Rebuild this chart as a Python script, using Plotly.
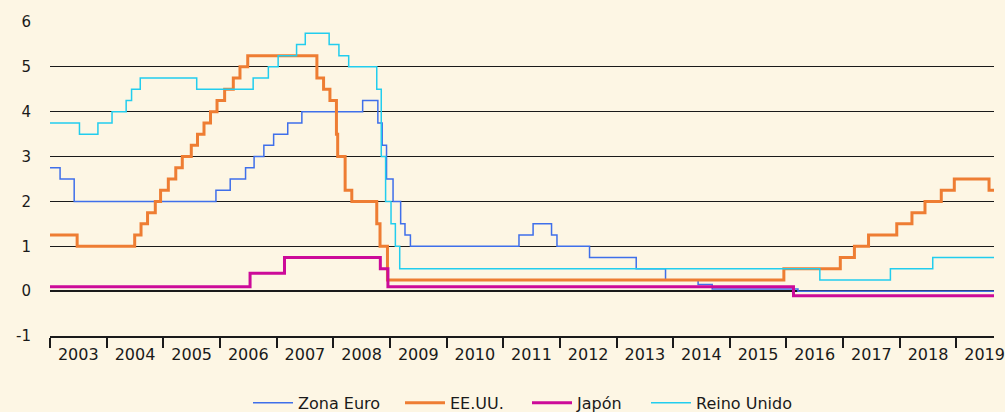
import plotly.graph_objects as go

# ---- Data (policy rates, %) ----
euro_dates = ["2003-01-01", "2003-03-07", "2003-06-06", "2005-12-06", "2006-03-08", "2006-06-15",
              "2006-08-09", "2006-10-11", "2006-12-13", "2007-03-14", "2007-06-13", "2008-07-09",
              "2008-10-15", "2008-11-12", "2008-12-10", "2009-01-21", "2009-03-11", "2009-04-08",
              "2009-05-13", "2011-04-13", "2011-07-13", "2011-11-09", "2011-12-14", "2012-07-11",
              "2013-05-08", "2013-11-13", "2014-06-11", "2014-09-10", "2016-03-16", "2019-09-01"]
euro_rates = [2.75, 2.50, 2.00, 2.25, 2.50, 2.75,
              3.00, 3.25, 3.50, 3.75, 4.00, 4.25,
              3.75, 3.25, 2.50, 2.00, 1.50, 1.25,
              1.00, 1.25, 1.50, 1.25, 1.00, 0.75,
              0.50, 0.25, 0.15, 0.05, 0.00, 0.00]

us_dates = ["2003-01-01", "2003-06-25", "2004-06-30", "2004-08-10", "2004-09-21", "2004-11-10",
            "2004-12-14", "2005-02-02", "2005-03-22", "2005-05-03", "2005-06-30", "2005-08-09",
            "2005-09-20", "2005-11-01", "2005-12-13", "2006-01-31", "2006-03-28", "2006-05-10",
            "2006-06-29", "2007-09-18", "2007-10-31", "2007-12-11", "2008-01-22", "2008-01-30",
            "2008-03-18", "2008-04-30", "2008-10-08", "2008-10-29", "2008-12-16", "2015-12-16",
            "2016-12-14", "2017-03-15", "2017-06-14", "2017-12-13", "2018-03-21", "2018-06-13",
            "2018-09-26", "2018-12-19", "2019-07-31", "2019-09-01"]
us_rates = [1.25, 1.00, 1.25, 1.50, 1.75, 2.00,
            2.25, 2.50, 2.75, 3.00, 3.25, 3.50,
            3.75, 4.00, 4.25, 4.50, 4.75, 5.00,
            5.25, 4.75, 4.50, 4.25, 3.50, 3.00,
            2.25, 2.00, 1.50, 1.00, 0.25, 0.50,
            0.75, 1.00, 1.25, 1.50, 1.75, 2.00,
            2.25, 2.50, 2.25, 2.25]

japan_dates = ["2003-01-01", "2006-07-14", "2007-02-21", "2008-10-31", "2008-12-19", "2016-02-16", "2019-09-01"]
japan_rates = [0.10, 0.40, 0.75, 0.50, 0.10, -0.10, -0.10]

uk_dates = ["2003-01-01", "2003-07-10", "2003-11-06", "2004-02-05", "2004-05-06", "2004-06-10",
            "2004-08-05", "2005-08-04", "2006-08-03", "2006-11-09", "2007-01-11", "2007-05-10",
            "2007-07-05", "2007-12-06", "2008-02-07", "2008-04-10", "2008-10-08", "2008-11-06",
            "2008-12-04", "2009-01-08", "2009-02-05", "2009-03-05", "2016-08-04", "2017-11-02",
            "2018-08-02", "2019-09-01"]
uk_rates = [3.75, 3.50, 3.75, 4.00, 4.25, 4.50,
            4.75, 4.50, 4.75, 5.00, 5.25, 5.50,
            5.75, 5.50, 5.25, 5.00, 4.50, 3.00,
            2.00, 1.50, 1.00, 0.50, 0.25, 0.50,
            0.75, 0.75]

series_names = ["Zona Euro", "EE.UU.", "Japón", "Reino Unido"]
y_ticks = [-1, 0, 1, 2, 3, 4, 5, 6]
y_tick_labels = ["-1", "0", "1", "2", "3", "4", "5", "6"]

BG = "#FDF6E4"
FONT = "DejaVu Sans"
INK = "#1a1a1a"

fig = go.Figure()
styles = [("#3F6FEA", 1.5), ("#EE7D33", 3), ("#CC0A99", 3), ("#22CDEE", 1.5)]
legend_ids = ["legend", "legend2", "legend3", "legend4"]
data = [(euro_dates, euro_rates), (us_dates, us_rates), (japan_dates, japan_rates), (uk_dates, uk_rates)]
for name, (d, v), (c, w), lg in zip(series_names, data, styles, legend_ids):
    fig.add_trace(go.Scatter(x=d, y=v, mode="lines", name=name, legend=lg,
                             line=dict(shape="hv", color=c, width=w)))

x_range = ["2003-01-01", "2019-09-01"]

# legend placement (left edge of each legend box, in px of the page)
legend_px = [248, 400, 527, 646]
PL, PW = 50, 944
legends = {}
for lg, px in zip(legend_ids, legend_px):
    legends[lg] = dict(orientation="h", x=(px - PL) / PW, xanchor="left", y=-0.213, yanchor="middle",
                       font=dict(size=16, color=INK, family=FONT), itemwidth=40,
                       bgcolor="rgba(0,0,0,0)", borderwidth=0)

fig.update_layout(
    width=1005, height=412,
    margin=dict(l=50, r=11, t=22, b=76, autoexpand=False),
    paper_bgcolor=BG, plot_bgcolor=BG,
    font=dict(family=FONT, color=INK, size=15),
    showlegend=True,
    xaxis=dict(type="date", range=x_range, tick0="2003-01-01", dtick="M12",
               ticklabelmode="period", tickformat="%Y", ticks="outside", ticklen=10,
               tickcolor=INK, tickwidth=1.5, showline=True, linecolor=INK, linewidth=1.5,
               showgrid=False, zeroline=False, tickfont=dict(size=16), automargin=False,
               ticklabelstandoff=-7),
    xaxis2=dict(type="date", range=x_range, overlaying="x", anchor="y", side="bottom",
                tick0="2003-01-01", dtick="M12", ticks="inside", ticklen=10,
                tickcolor=INK, tickwidth=1.5, showticklabels=False,
                showgrid=False, showline=False, zeroline=False, automargin=False),
    yaxis=dict(range=[-1, 6], tickvals=y_ticks, ticktext=y_tick_labels, showgrid=True,
               gridcolor=INK, gridwidth=1,
               zeroline=True, zerolinecolor=INK, zerolinewidth=2, showline=False,
               ticks="", tickfont=dict(size=15), ticklabelstandoff=18, automargin=False),
    **legends,
)

fig.write_html("out.html", config={"displayModeBar": False},
               post_script="document.body.style.margin='0';document.body.style.background='%s';" % BG)
